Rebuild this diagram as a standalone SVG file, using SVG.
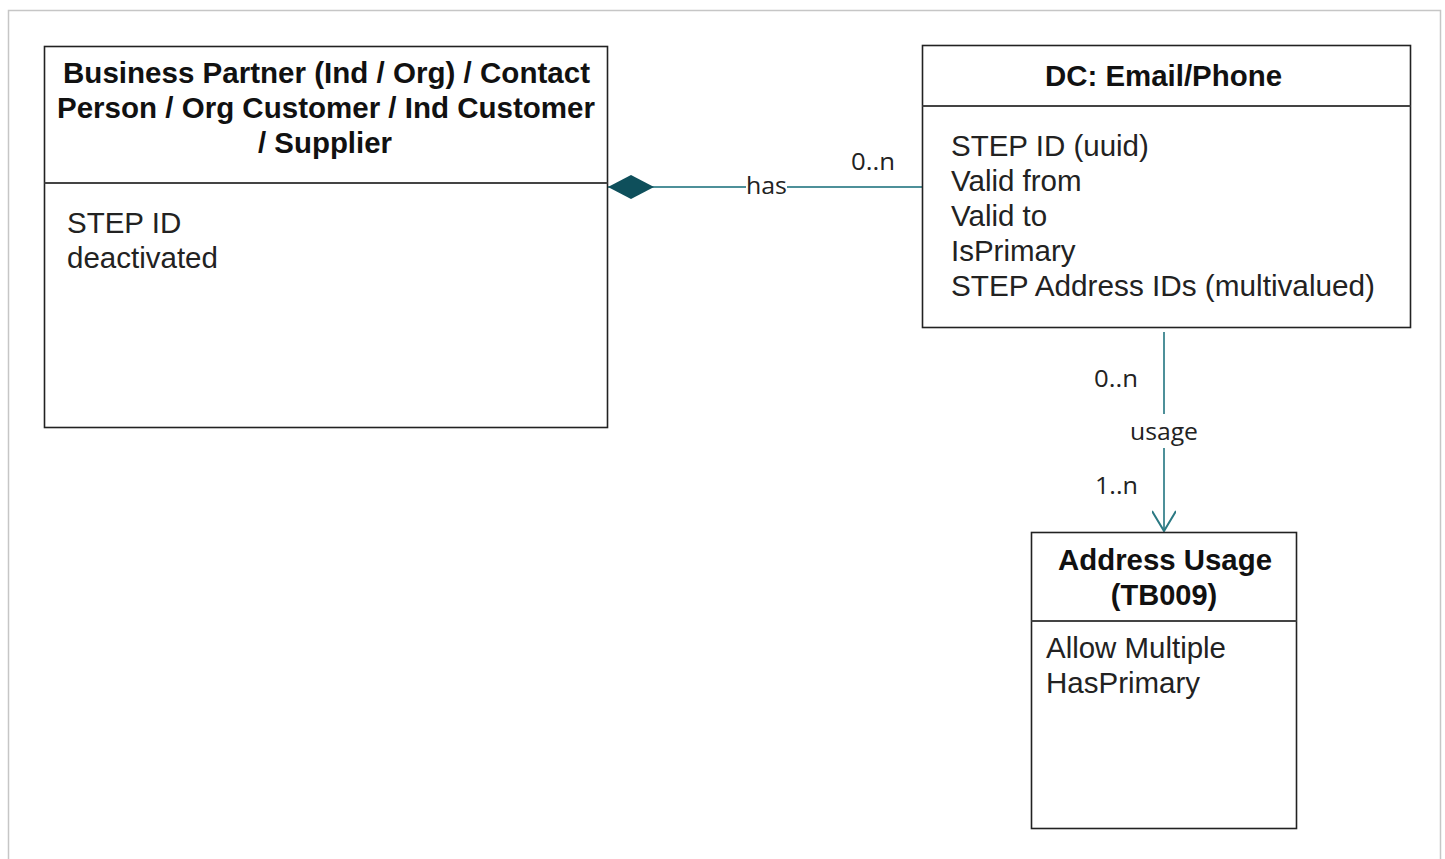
<svg xmlns="http://www.w3.org/2000/svg" width="1445" height="859" viewBox="0 0 1445 859">
<style>
.box{fill:#fff;stroke:#222;stroke-width:1.6}
.div{stroke:#444;stroke-width:2}
.title{font-family:"Liberation Sans",Arial,sans-serif;font-weight:bold;font-size:29px;fill:#111;text-anchor:middle}
.attr{font-family:"Liberation Sans",Arial,sans-serif;font-size:29.5px;fill:#222}
.lbl{font-family:"Open Sans","Noto Sans",sans-serif;font-size:24px;fill:#222}
.conn{stroke:#4e9099;stroke-width:2;fill:none}
</style>
<defs>
<marker id="diamond" markerWidth="48" markerHeight="26" refX="0" refY="13" orient="auto" markerUnits="userSpaceOnUse">
<path d="M0,13 L23,1 L46,13 L23,25 Z" fill="#0e4f5b"/>
</marker>
<marker id="openArrow" markerWidth="30" markerHeight="24" refX="22" refY="12" orient="auto" markerUnits="userSpaceOnUse">
<path d="M2,0 L22,12 L2,24" fill="none" stroke="#2b7983" stroke-width="2"/>
</marker>
</defs>
<rect x="0" y="0" width="1445" height="859" fill="#fff"/>
<rect x="8.5" y="10.5" width="1432" height="870" fill="none" stroke="#c6c6c6" stroke-width="1.5"/>

<g id="connectors">
<g id="conn-has">
<line x1="608" y1="187" x2="922" y2="187" class="conn" marker-start="url(#diamond)"/>
<rect x="746" y="175" width="41" height="22" fill="#fff"/>
<text x="766.5" y="194" class="lbl" text-anchor="middle" textLength="41" lengthAdjust="spacingAndGlyphs">has</text>
<text x="851" y="170" class="lbl" textLength="44" lengthAdjust="spacingAndGlyphs">0..n</text>
</g>
<g id="conn-usage">
<line x1="1164" y1="332" x2="1164" y2="531" class="conn" stroke="#2b7983" marker-end="url(#openArrow)"/>
<rect x="1124" y="414" width="80" height="34" fill="#fff"/>
<text x="1164" y="440" class="lbl" text-anchor="middle" textLength="68" lengthAdjust="spacingAndGlyphs">usage</text>
<text x="1094" y="387" class="lbl" textLength="44" lengthAdjust="spacingAndGlyphs">0..n</text>
<text x="1095" y="494" class="lbl" textLength="43" lengthAdjust="spacingAndGlyphs">1..n</text>
</g>
</g>

<g id="node-business-partner">
<rect x="44.5" y="46.5" width="563" height="381" class="box"/>
<line x1="44.5" y1="183" x2="607.5" y2="183" class="div"/>
<text x="326.5" y="83" class="title" textLength="527" lengthAdjust="spacingAndGlyphs">Business Partner (Ind / Org) / Contact</text>
<text x="326" y="118" class="title" textLength="538" lengthAdjust="spacingAndGlyphs">Person / Org Customer / Ind Customer</text>
<text x="325" y="153" class="title" textLength="134" lengthAdjust="spacingAndGlyphs">/ Supplier</text>
<text x="67" y="233" class="attr">STEP ID</text>
<text x="67" y="268" class="attr">deactivated</text>
</g>

<g id="node-dc-email-phone">
<rect x="922.5" y="45.5" width="488" height="282" class="box"/>
<line x1="922.5" y1="106" x2="1410.5" y2="106" class="div"/>
<text x="1163.5" y="86" class="title" textLength="237" lengthAdjust="spacingAndGlyphs">DC: Email/Phone</text>
<text x="951" y="156" class="attr">STEP ID (uuid)</text>
<text x="951" y="191" class="attr">Valid from</text>
<text x="951" y="226" class="attr">Valid to</text>
<text x="951" y="261" class="attr">IsPrimary</text>
<text x="951" y="296" class="attr" textLength="424" lengthAdjust="spacingAndGlyphs">STEP Address IDs (multivalued)</text>
</g>

<g id="node-address-usage">
<rect x="1031.5" y="532.5" width="265" height="296" class="box"/>
<line x1="1031.5" y1="621" x2="1296.5" y2="621" class="div"/>
<text x="1165" y="570" class="title" textLength="214" lengthAdjust="spacingAndGlyphs">Address Usage</text>
<text x="1164" y="605" class="title">(TB009)</text>
<text x="1046" y="658" class="attr" textLength="180" lengthAdjust="spacingAndGlyphs">Allow Multiple</text>
<text x="1046" y="693" class="attr">HasPrimary</text>
</g>
</svg>
